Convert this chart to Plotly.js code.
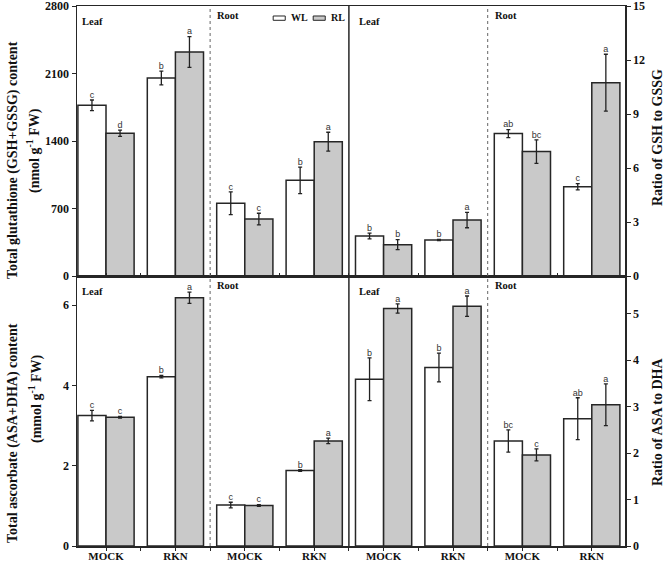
<!DOCTYPE html>
<html>
<head>
<meta charset="utf-8">
<script src="https://cdn.plot.ly/plotly-3.0.1.min.js"></script>
<style>html,body{margin:0;padding:0;background:#fff;}#chart{width:666px;height:561px;}</style>
</head>
<body>
<div id="chart"></div>
<script>
// ---------- data ----------
const tissues = ['Leaf', 'Leaf', 'Root', 'Root'];
const groups = ['MOCK', 'RKN', 'MOCK', 'RKN'];
const seriesNames = ['WL', 'RL'];

// Total glutathione (GSH+GSSG), nmol g-1 FW
const gshWL = [1770, 2053, 754, 992];
const gshWLerr = [55, 72, 118, 138];
const gshWLsig = ['c', 'b', 'c', 'b'];
const gshRL = [1480, 2323, 591, 1393];
const gshRLerr = [33, 160, 60, 98];
const gshRLsig = ['d', 'a', 'c', 'a'];

// Ratio of GSH to GSSG
const gshRatioWL = [2.22, 2.0, 7.91, 4.96];
const gshRatioWLerr = [0.16, 0.03, 0.22, 0.17];
const gshRatioWLsig = ['b', 'b', 'ab', 'c'];
const gshRatioRL = [1.74, 3.11, 6.91, 10.74];
const gshRatioRLerr = [0.28, 0.43, 0.65, 1.58];
const gshRatioRLsig = ['b', 'a', 'bc', 'a'];

// Total ascorbate (ASA+DHA), mmol g-1 FW
const ascWL = [3.25, 4.22, 1.02, 1.88];
const ascWLerr = [0.13, 0.03, 0.07, 0.02];
const ascWLsig = ['c', 'b', 'c', 'b'];
const ascRL = [3.21, 6.19, 1.01, 2.62];
const ascRLerr = [0.02, 0.14, 0.02, 0.07];
const ascRLsig = ['c', 'a', 'c', 'a'];

// Ratio of ASA to DHA
const asaRatioWL = [3.59, 3.84, 2.26, 2.74];
const asaRatioWLerr = [0.46, 0.31, 0.24, 0.45];
const asaRatioWLsig = ['b', 'b', 'bc', 'ab'];
const asaRatioRL = [5.11, 5.16, 1.96, 3.04];
const asaRatioRLerr = [0.10, 0.22, 0.13, 0.45];
const asaRatioRLsig = ['a', 'a', 'c', 'a'];

// ---------- styling / layout ----------
const W = 0.81;            // bar width in x units
const leftPos = groups.map((g, i) => 1 + 2 * i);   // 1,3,5,7
const rightPos = groups.map((g, i) => 9 + 2 * i);  // 9,11,13,15
const fills = {WL: '#ffffff', RL: '#c9c9c9'};
const edge = '#262626';
const serif = 'Liberation Serif';
const sans = 'Liberation Sans';
const TOP = 6, BOT = 546;   // plot area pixel rows

const traces = [];
function addSeries(name, vals, errs, sig, pos, xa, ya) {
  const off = name === 'WL' ? -W : 0;
  traces.push({
    type: 'bar', name: name, x: pos, y: vals, width: W, offset: off,
    xaxis: xa, yaxis: ya, showlegend: false,
    marker: {color: fills[name], line: {color: edge, width: 1.5}},
    error_y: {type: 'data', array: errs, visible: true, color: '#222', thickness: 1.3, width: 2}
  });
  traces.push({
    type: 'scatter', mode: 'text', x: pos.map(p => p + off + W / 2),
    y: vals.map((v, i) => v + errs[i]), text: sig, textposition: 'top center',
    textfont: {family: sans, size: 9, color: '#333'}, cliponaxis: false,
    xaxis: xa, yaxis: ya, showlegend: false, hoverinfo: 'skip'
  });
}
addSeries('WL', gshWL, gshWLerr, gshWLsig, leftPos, 'x', 'y');
addSeries('RL', gshRL, gshRLerr, gshRLsig, leftPos, 'x', 'y');
addSeries('WL', gshRatioWL, gshRatioWLerr, gshRatioWLsig, rightPos, 'x', 'y2');
addSeries('RL', gshRatioRL, gshRatioRLerr, gshRatioRLsig, rightPos, 'x', 'y2');
addSeries('WL', ascWL, ascWLerr, ascWLsig, leftPos, 'x2', 'y3');
addSeries('RL', ascRL, ascRLerr, ascRLsig, leftPos, 'x2', 'y3');
addSeries('WL', asaRatioWL, asaRatioWLerr, asaRatioWLsig, rightPos, 'x2', 'y4');
addSeries('RL', asaRatioRL, asaRatioRLerr, asaRatioRLsig, rightPos, 'x2', 'y4');

const allPos = leftPos.concat(rightPos);
const allLabels = groups.concat(groups);
const xrange = [0.164, 15.957];
const tickFont = {family: serif, size: 12, color: '#111', weight: 'bold'};
const lineStyle = {showline: true, linecolor: edge, linewidth: 1.5, showgrid: false, zeroline: false,
  ticks: 'outside', ticklen: 4, tickwidth: 1, tickcolor: edge, tickfont: tickFont, automargin: false,
  ticklabeloverflow: 'allow'};

const annotations = [];
// panel labels
const labelPos = [0.25, 4.14, 8.23, 12.15];
const labelTxt = ['Leaf', 'Root', 'Leaf', 'Root'];
['y domain', 'y3 domain'].forEach(function (yr) {
  const xr = yr === 'y domain' ? 'x' : 'x2';
  labelTxt.forEach(function (t, i) {
    annotations.push({text: t, x: labelPos[i], xref: xr, y: t === 'Leaf' ? 0.944 : 0.963, yref: yr,
      xanchor: 'left', yanchor: 'middle', showarrow: false,
      font: {family: serif, size: 10.5, color: '#111', weight: 'bold'}});
  });
});
// legend text
annotations.push({text: seriesNames[0], x: 0.386, xref: 'paper', y: 0.978, yref: 'paper', xanchor: 'left', yanchor: 'middle',
  showarrow: false, font: {family: serif, size: 10, color: '#111', weight: 'bold'}});
annotations.push({text: seriesNames[1], x: 0.459, xref: 'paper', y: 0.978, yref: 'paper', xanchor: 'left', yanchor: 'middle',
  showarrow: false, font: {family: serif, size: 10, color: '#111', weight: 'bold'}});
// axis titles
const titleFont = {family: serif, size: 14, color: '#111', weight: 'bold'};
function vTitle(text, xpx, ypx) {
  annotations.push({text: text, textangle: -90, x: (xpx - 77) / 548, xref: 'paper',
    y: (BOT - ypx) / (BOT - TOP), yref: 'paper',
    xanchor: 'center', yanchor: 'middle', showarrow: false, font: titleFont});
}
vTitle('Total glutathione (GSH+GSSG) content', 13, 160);
vTitle('(nmol g<sup>-1</sup> FW)', 34, 151);
vTitle('Total ascorbate (ASA+DHA) content', 13, 433);
vTitle('(mmol g<sup>-1</sup> FW)', 35, 399);
vTitle('Ratio of GSH to GSSG', 657, 138);
vTitle('Ratio of ASA to DHA', 657, 422);

const shapes = [
  {type: 'line', xref: 'x', yref: 'paper', x0: 4, x1: 4, y0: 0, y1: 1, line: {color: '#666', width: 1, dash: 'dot'}},
  {type: 'line', xref: 'x', yref: 'paper', x0: 12, x1: 12, y0: 0, y1: 1, line: {color: '#666', width: 1, dash: 'dot'}},
  {type: 'line', xref: 'x', yref: 'paper', x0: 8, x1: 8, y0: 0, y1: 1, line: {color: edge, width: 1.5}},
  {type: 'rect', xref: 'paper', yref: 'paper', x0: 0.358, x1: 0.380, y0: 0.9735, y1: 0.9815,
    line: {color: edge, width: 1}, fillcolor: fills.WL},
  {type: 'rect', xref: 'paper', yref: 'paper', x0: 0.431, x1: 0.453, y0: 0.9735, y1: 0.9815,
    line: {color: edge, width: 1}, fillcolor: fills.RL}
];

const minorX = {tickmode: 'linear', tick0: 0, dtick: 1, ticklen: 3, tickwidth: 1, tickcolor: edge};

const layout = {
  width: 666, height: 561,
  margin: {l: 77, r: 41, t: TOP, b: 561 - BOT},
  paper_bgcolor: '#fff', plot_bgcolor: 'rgba(0,0,0,0)',
  barmode: 'overlay', showlegend: false,
  xaxis: Object.assign({}, lineStyle, {domain: [0, 1], anchor: 'y', range: xrange, tickmode: 'array',
    tickvals: allPos, showticklabels: false, ticks: 'inside', ticklen: 3, mirror: true,
    minor: Object.assign({}, minorX, {ticks: 'inside'})}),
  xaxis2: Object.assign({}, lineStyle, {domain: [0, 1], anchor: 'y3', range: xrange, tickmode: 'array',
    tickvals: allPos, ticktext: allLabels, ticklen: 3, mirror: true, ticklabelstandoff: -4,
    minor: Object.assign({}, minorX, {ticks: 'outside'}),
    tickfont: {family: serif, size: 11, color: '#111', weight: 'bold'}}),
  yaxis: Object.assign({}, lineStyle, {domain: [0.5, 1], anchor: 'x', range: [0, 2800], tickvals: [0, 700, 1400, 2100, 2800]}),
  yaxis2: Object.assign({}, lineStyle, {overlaying: 'y', side: 'right', anchor: 'x', range: [0, 15], tickvals: [0, 3, 6, 9, 12, 15]}),
  yaxis3: Object.assign({}, lineStyle, {domain: [0, 0.5], anchor: 'x2', range: [0, 6.73], tickvals: [0, 2, 4, 6]}),
  yaxis4: Object.assign({}, lineStyle, {overlaying: 'y3', side: 'right', anchor: 'x2', range: [0, 5.81], tickvals: [0, 1, 2, 3, 4, 5]}),
  annotations: annotations,
  shapes: shapes
};

Plotly.newPlot('chart', traces, layout, {displayModeBar: false, staticPlot: true});
</script>
</body>
</html>
